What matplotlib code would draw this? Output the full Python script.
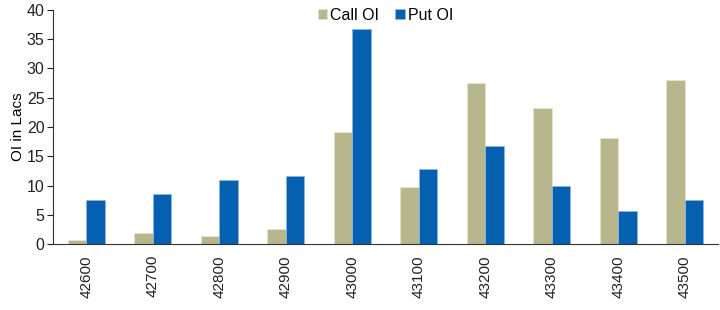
import matplotlib.pyplot as plt
import numpy as np

strikes = ["42600", "42700", "42800", "42900", "43000",
           "43100", "43200", "43300", "43400", "43500"]
call_oi = [0.6, 1.8, 1.4, 2.6, 19.1, 9.7, 27.6, 23.2, 18.1, 28.1]
put_oi = [7.5, 8.5, 10.9, 11.6, 36.8, 12.8, 16.8, 9.9, 5.6, 7.6]

plt.rcParams["font.family"] = ["Liberation Sans", "DejaVu Sans"]

fig = plt.figure(figsize=(7.2, 3.1), dpi=100)
ax = fig.add_axes([53 / 720, 66 / 310, 665 / 720, 234 / 310])

x = np.arange(len(strikes))
w = 0.28
ax.bar(x - w / 2, call_oi, w, color="#B8B68C", edgecolor="#E6E4CC", linewidth=0.6, label="Call OI")
ax.bar(x + w / 2, put_oi, w, color="#0560B0", edgecolor="#8FB5DD", linewidth=0.6, label="Put OI")

ax.set_xlim(-0.5, len(strikes) - 0.5)
ax.set_ylim(0, 40)
ax.set_yticks(range(0, 41, 5))
ax.set_xticks(x)
ax.set_xticklabels(strikes, rotation=90)
ax.tick_params(axis="x", length=0, labelsize=11, pad=8, colors="#222222")
ax.tick_params(axis="y", length=4, width=0.8, labelsize=11.5, colors="#222222", direction="out", pad=2)
ax.set_ylabel("OI in Lacs", fontsize=11, labelpad=1)

for s in ["top", "right"]:
    ax.spines[s].set_visible(False)
ax.spines["left"].set_color("#333333")
ax.spines["bottom"].set_color("#333333")
ax.spines["left"].set_linewidth(0.8)
ax.spines["bottom"].set_linewidth(0.8)

ax.legend(loc="upper center", bbox_to_anchor=(0.5, 1.07), ncol=2, frameon=False,
          fontsize=11.5, handlelength=0.6, handleheight=0.6, handletextpad=0.2,
          columnspacing=1.0)

fig.savefig("out.png", dpi=100)
